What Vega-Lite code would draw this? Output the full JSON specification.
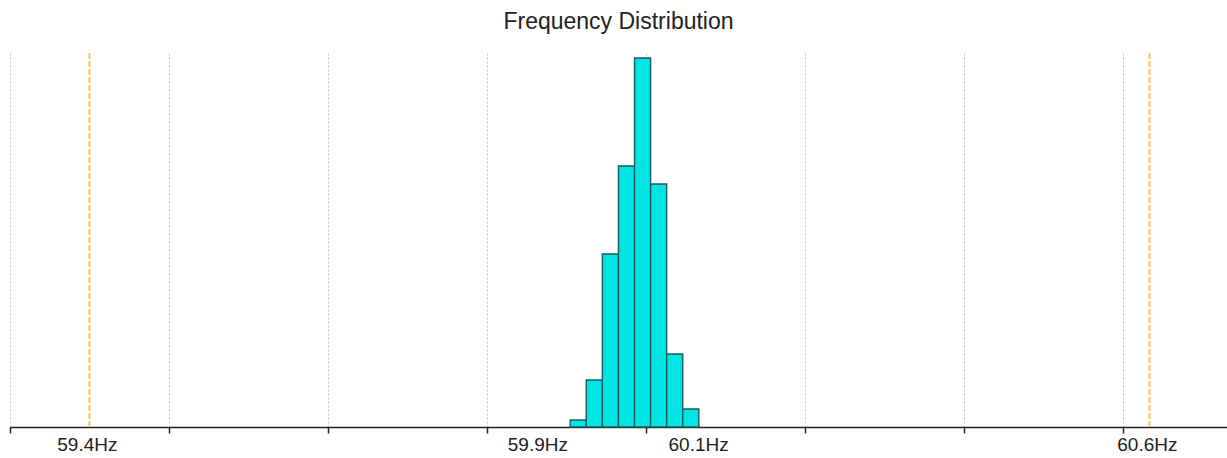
{
  "$schema": "https://vega.github.io/schema/vega-lite/v6.json",
  "autosize": {"type": "none"},
  "width": 1217,
  "height": 374,
  "padding": {"left": 10, "top": 53, "right": 0, "bottom": 31},
  "background": "white",
  "title": {
    "text": "Frequency Distribution",
    "font": "Liberation Sans",
    "fontSize": 23,
    "fontWeight": "normal",
    "color": "#222222",
    "anchor": "middle",
    "offset": 18
  },
  "config": {"view": {"stroke": null}},
  "datasets": {
    "bins": [
      {"bin_start": 59.9442, "bin_end": 59.9624, "count": 7},
      {"bin_start": 59.9624, "bin_end": 59.9806, "count": 47},
      {"bin_start": 59.9806, "bin_end": 59.9988, "count": 173},
      {"bin_start": 59.9988, "bin_end": 60.0170, "count": 261},
      {"bin_start": 60.0170, "bin_end": 60.0352, "count": 369},
      {"bin_start": 60.0352, "bin_end": 60.0534, "count": 243},
      {"bin_start": 60.0534, "bin_end": 60.0716, "count": 73},
      {"bin_start": 60.0716, "bin_end": 60.0898, "count": 18}
    ],
    "limits": [
      {"freq": 59.4},
      {"freq": 60.6}
    ]
  },
  "layer": [
    {
      "data": {"name": "bins"},
      "mark": {"type": "bar", "fill": "#00E4E4", "stroke": "#115F5F", "strokeWidth": 1.4},
      "encoding": {
        "x": {
          "field": "bin_start",
          "type": "quantitative",
          "scale": {"domain": [59.31, 60.68775], "nice": false, "zero": false},
          "axis": {
            "orient": "bottom",
            "title": null,
            "values": [59.31, 59.49, 59.67, 59.85, 60.03, 60.21, 60.39, 60.57],
            "labels": false,
            "grid": true,
            "gridColor": "#c4c4c4",
            "gridDash": [2, 2],
            "gridWidth": 1,
            "ticks": true,
            "tickColor": "#222222",
            "tickSize": 6,
            "tickWidth": 1.5,
            "domain": true,
            "domainColor": "#222222",
            "domainWidth": 1.5
          }
        },
        "x2": {"field": "bin_end"},
        "y": {
          "field": "count",
          "type": "quantitative",
          "scale": {"domain": [0, 374], "nice": false},
          "axis": null
        },
        "y2": {"datum": 0}
      }
    },
    {
      "data": {"name": "limits"},
      "mark": {"type": "rule", "stroke": "#FFC050", "strokeWidth": 2, "strokeDash": [6, 2]},
      "encoding": {
        "x": {
          "field": "freq",
          "type": "quantitative",
          "axis": {
            "orient": "bottom",
            "title": null,
            "values": [59.397, 59.907, 60.089, 60.597],
            "labelExpr": "datum.value < 59.5 ? '59.4Hz' : datum.value < 60 ? '59.9Hz' : datum.value < 60.3 ? '60.1Hz' : '60.6Hz'",
            "labelFont": "Liberation Sans",
            "labelFontSize": 19,
            "labelColor": "#222222",
            "labelPadding": 8,
            "labelFlush": false,
            "labelOverlap": false,
            "grid": false,
            "ticks": false,
            "domain": false
          }
        }
      }
    }
  ],
  "resolve": {"axis": {"x": "independent"}}
}
